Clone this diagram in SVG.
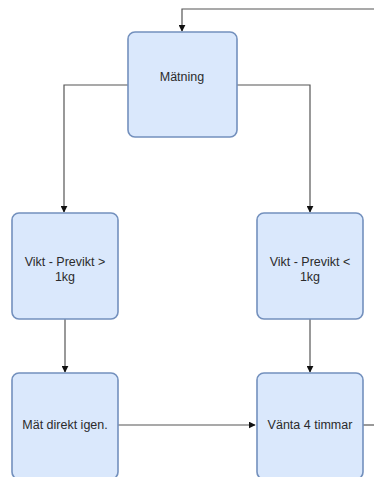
<svg xmlns="http://www.w3.org/2000/svg" width="374" height="477" viewBox="0 0 374 477">
  <style>
    .box { fill: #dae8fc; stroke: #7390bd; stroke-width: 1.6; }
    .label { font-family: "Liberation Sans", Arial, sans-serif; font-size: 12.5px; fill: #2b2b2b; text-anchor: middle; }
    .edge { fill: none; stroke: #555555; stroke-width: 1.2; }
  </style>
  <defs>
    <marker id="arrow" viewBox="0 0 10 10" refX="9" refY="5" markerWidth="7" markerHeight="7" markerUnits="userSpaceOnUse" orient="auto">
      <path d="M0,0 L10,5 L0,10 Z" fill="#111111"/>
    </marker>
  </defs>
  <rect width="374" height="477" fill="#ffffff"/>

  <g id="connectors">
    <path class="edge" d="M374,9 H182 V31" marker-end="url(#arrow)"/>
    <path class="edge" d="M128,85 H64 V212" marker-end="url(#arrow)"/>
    <path class="edge" d="M237,85 H310 V212" marker-end="url(#arrow)"/>
    <path class="edge" d="M65,319 V372" marker-end="url(#arrow)"/>
    <path class="edge" d="M310,319 V372" marker-end="url(#arrow)"/>
    <path class="edge" d="M118,425 H255" marker-end="url(#arrow)"/>
    <path class="edge" d="M363,425 H374"/>
  </g>

  <g id="matning">
    <rect class="box" x="128" y="32" width="109" height="105" rx="7"/>
    <text class="label" x="182" y="81">Mätning</text>
  </g>

  <g id="vikt-storre">
    <rect class="box" x="12" y="213" width="106" height="106" rx="7"/>
    <text class="label" x="65" y="266">Vikt - Previkt &gt;</text>
    <text class="label" x="65" y="281">1kg</text>
  </g>

  <g id="vikt-mindre">
    <rect class="box" x="257" y="213" width="106" height="106" rx="7"/>
    <text class="label" x="310" y="266">Vikt - Previkt &lt;</text>
    <text class="label" x="310" y="281">1kg</text>
  </g>

  <g id="mat-direkt">
    <rect class="box" x="12" y="373" width="106" height="106" rx="7"/>
    <text class="label" x="65" y="429">Mät direkt igen.</text>
  </g>

  <g id="vanta">
    <rect class="box" x="257" y="373" width="106" height="106" rx="7"/>
    <text class="label" x="310" y="429">Vänta 4 timmar</text>
  </g>
</svg>
